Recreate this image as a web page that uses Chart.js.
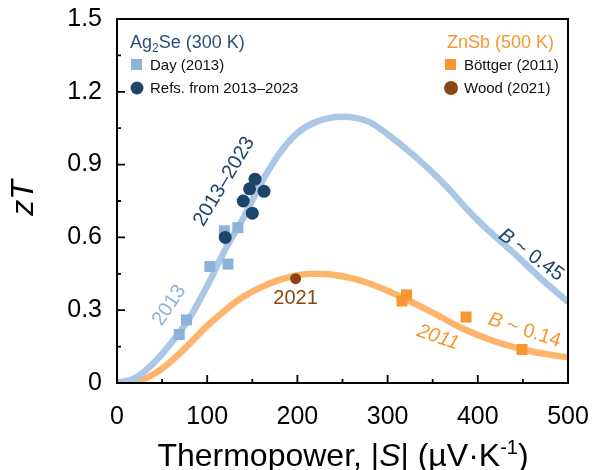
<!DOCTYPE html>
<html>
<head>
<meta charset="utf-8">
<script src="https://cdn.jsdelivr.net/npm/chart.js@4.4.1/dist/chart.umd.min.js"></script>
<style>
    body { margin: 0; background: #fff; }
    #wrap { width: 592px; height: 470px; position: relative; }
</style>
</head>
<body>
<div id="wrap"><canvas id="ztChart"></canvas></div>
<script>
// Model curves (|S| in uV/K, zT)
const blueS  = [0, 20, 40, 60, 80, 100, 120, 140, 160, 180, 200, 220, 250, 280, 300, 330, 360, 400, 440, 470, 500];
const blueZT = [0, 0.02, 0.08, 0.165, 0.265, 0.40, 0.55, 0.68, 0.825, 0.945, 1.03, 1.075, 1.097, 1.075, 1.025, 0.935, 0.83, 0.67, 0.535, 0.43, 0.334];

const orangeS  = [0, 20, 40, 60, 80, 100, 120, 140, 160, 180, 200, 220, 250, 280, 300, 320, 350, 380, 420, 460, 500];
const orangeZT = [0, 0.005, 0.035, 0.09, 0.16, 0.235, 0.30, 0.355, 0.395, 0.425, 0.444, 0.45, 0.44, 0.41, 0.38, 0.345, 0.29, 0.23, 0.17, 0.13, 0.105];

// Ag2Se points
const dayS  = [69, 77, 103, 123, 119, 134];
const dayZT = [0.20, 0.26, 0.48, 0.49, 0.627, 0.64];
const refsS  = [120, 140, 147, 153, 163, 150];
const refsZT = [0.60, 0.75, 0.80, 0.84, 0.79, 0.70];

// ZnSb points
const bottgerS  = [321, 316, 387, 449];
const bottgerZT = [0.363, 0.338, 0.272, 0.138];
const woodS  = [198];
const woodZT = [0.43];

const colors = {
    curveBlue: '#aac8e6',
    curveOrange: '#fdb46c',
    dayBlue: '#8db3dc',
    navy: '#1f4469',
    orange: '#f8962f',
    brown: '#8a4610'
};

const FONT = '"Liberation Sans", Arial, sans-serif';

function toPoints(xs, ys) {
    return xs.map((v, i) => ({ x: v, y: ys[i] }));
}

// draw a run of text pieces (mixed italic / sub / sup) around cx,cy
function drawRuns(ctx, runs, cx, cy, angle, align) {
    ctx.save();
    ctx.translate(cx, cy);
    ctx.rotate(angle * Math.PI / 180);
    let total = 0;
    runs.forEach(r => { ctx.font = r.font; r.w = ctx.measureText(r.t).width; total += r.w; });
    let x0 = align === 'left' ? 0 : (align === 'right' ? -total : -total / 2);
    runs.forEach(r => {
        ctx.font = r.font;
        ctx.fillStyle = r.color;
        ctx.fillText(r.t, x0, r.dy || 0);
        x0 += r.w;
    });
    ctx.restore();
}

const decorPlugin = {
    id: 'decor',
    afterDraw(chart) {
        const { ctx, chartArea: a, scales: { x, y } } = chart;
        ctx.save();

        // frame
        ctx.strokeStyle = '#000';
        ctx.lineWidth = 2;
        ctx.strokeRect(a.left, a.top, a.right - a.left, a.bottom - a.top);

        // inward ticks
        ctx.lineWidth = 1.8;
        ctx.beginPath();
        for (let v = 50; v < 500; v += 50) {
            const px = x.getPixelForValue(v);
            const len = v % 100 === 0 ? 8 : 4;
            ctx.moveTo(px, a.bottom);
            ctx.lineTo(px, a.bottom - len);
        }
        for (let i = 1; i < 10; i++) {
            const py = y.getPixelForValue(i * 0.15);
            const len = i % 2 === 0 ? 8 : 4;
            ctx.moveTo(a.left, py);
            ctx.lineTo(a.left + len, py);
        }
        ctx.stroke();

        ctx.textBaseline = 'middle';
        const px = (s) => x.getPixelForValue(s);
        const py = (z) => y.getPixelForValue(z);

        // curve / point annotations
        const f20 = '20px ' + FONT;
        const f20i = 'italic 20px ' + FONT;
        drawRuns(ctx, [{ t: '2013', font: f20, color: colors.dayBlue }], px(58), py(0.32), -56);
        drawRuns(ctx, [{ t: '2013\u20132023', font: f20, color: colors.navy }], px(119), py(0.83), -59);
        drawRuns(ctx, [{ t: 'B', font: f20i, color: colors.navy }, { t: ' ~ 0.45', font: f20, color: colors.navy }], px(459), py(0.527), 36);
        drawRuns(ctx, [{ t: 'B', font: f20i, color: colors.orange }, { t: ' ~ 0.14', font: f20, color: colors.orange }], px(452), py(0.217), 18);
        drawRuns(ctx, [{ t: '2011', font: f20i, color: colors.orange }], px(356), py(0.188), 19);
        drawRuns(ctx, [{ t: '2021', font: f20, color: colors.brown }], px(198), py(0.35), 0);

        // legends
        ctx.textBaseline = 'alphabetic';
        const f18 = '18px ' + FONT;
        const f15 = '15px ' + FONT;
        drawRuns(ctx, [
            { t: 'Ag', font: f18, color: '#2a4e7a' },
            { t: '2', font: '12px ' + FONT, color: '#2a4e7a', dy: 4 },
            { t: 'Se (300 K)', font: f18, color: '#2a4e7a' }
        ], 130, 48, 0, 'left');
        drawRuns(ctx, [{ t: 'Day (2013)', font: f15, color: '#111' }], 150, 70, 0, 'left');
        drawRuns(ctx, [{ t: 'Refs. from 2013\u20132023', font: f15, color: '#111' }], 150, 93, 0, 'left');
        ctx.fillStyle = colors.dayBlue;
        ctx.fillRect(131, 59, 11, 11);
        ctx.fillStyle = colors.navy;
        ctx.beginPath(); ctx.arc(137, 88, 6.5, 0, Math.PI * 2); ctx.fill();

        drawRuns(ctx, [{ t: 'ZnSb (500 K)', font: f18, color: colors.orange }], 554, 48, 0, 'right');
        drawRuns(ctx, [{ t: 'B\u00f6ttger (2011)', font: f15, color: '#111' }], 464, 70, 0, 'left');
        drawRuns(ctx, [{ t: 'Wood (2021)', font: f15, color: '#111' }], 464, 93, 0, 'left');
        ctx.fillStyle = colors.orange;
        ctx.fillRect(445, 59, 11, 11);
        ctx.fillStyle = colors.brown;
        ctx.beginPath(); ctx.arc(451, 88, 7, 0, Math.PI * 2); ctx.fill();

        // axis titles
        const f32 = '32px ' + FONT;
        const f32i = 'italic 32px ' + FONT;
        drawRuns(ctx, [
            { t: 'Thermopower, |', font: f32, color: '#000' },
            { t: 'S', font: f32i, color: '#000' },
            { t: '| (\u00b5V\u00b7K', font: f32, color: '#000' },
            { t: '-1', font: '20px ' + FONT, color: '#000', dy: -12 },
            { t: ')', font: f32, color: '#000' }
        ], 343, 466, 0);
        ctx.textBaseline = 'middle';
        drawRuns(ctx, [
            { t: 'z', font: f32i, color: '#000' },
            { t: 'T', font: f32i, color: '#000' }
        ], 24, 198, -90);

        ctx.restore();
    }
};

document.addEventListener('DOMContentLoaded', function() {
    const ctx = document.getElementById('ztChart').getContext('2d');
    new Chart(ctx, {
        type: 'scatter',
        data: {
            datasets: [
                {
                    label: 'Day (2013)',
                    data: toPoints(dayS, dayZT),
                    pointStyle: 'rect',
                    pointRadius: 7.8,
                    backgroundColor: colors.dayBlue,
                    borderWidth: 0,
                    order: 1
                },
                {
                    label: 'Refs. from 2013-2023',
                    data: toPoints(refsS, refsZT),
                    pointStyle: 'circle',
                    pointRadius: 6.5,
                    backgroundColor: colors.navy,
                    borderWidth: 0,
                    order: 0
                },
                {
                    label: 'Böttger (2011)',
                    data: toPoints(bottgerS, bottgerZT),
                    pointStyle: 'rect',
                    pointRadius: 7.8,
                    backgroundColor: colors.orange,
                    borderWidth: 0,
                    order: 1
                },
                {
                    label: 'Wood (2021)',
                    data: toPoints(woodS, woodZT),
                    pointStyle: 'circle',
                    pointRadius: 5.5,
                    backgroundColor: colors.brown,
                    borderWidth: 0,
                    order: 0
                },
                {
                    label: 'B ~ 0.45',
                    data: toPoints(blueS, blueZT),
                    showLine: true,
                    pointRadius: 0,
                    borderColor: colors.curveBlue,
                    borderWidth: 6.5,
                    cubicInterpolationMode: 'monotone',
                    order: 2
                },
                {
                    label: 'B ~ 0.14',
                    data: toPoints(orangeS, orangeZT),
                    showLine: true,
                    pointRadius: 0,
                    borderColor: colors.curveOrange,
                    borderWidth: 6.5,
                    cubicInterpolationMode: 'monotone',
                    order: 3
                }
            ]
        },
        options: {
            responsive: true,
            maintainAspectRatio: false,
            animation: false,
            layout: {
                padding: { top: 19, right: 24, left: 0, bottom: 0 }
            },
            plugins: {
                legend: { display: false },
                tooltip: { enabled: false }
            },
            scales: {
                x: {
                    type: 'linear',
                    min: 0,
                    max: 500,
                    afterFit: function(scale) {
                        scale.height = 87;
                        scale.paddingLeft = 0;
                        scale.paddingRight = 0;
                    },
                    grid: { display: false },
                    border: { display: true, color: '#000', width: 2 },
                    ticks: {
                        stepSize: 100,
                        padding: 11,
                        maxRotation: 0,
                        color: '#000',
                        font: { family: FONT, size: 25 }
                    }
                },
                y: {
                    type: 'linear',
                    min: 0,
                    max: 1.5,
                    afterFit: function(scale) {
                        scale.width = 117;
                        scale.paddingTop = 0;
                        scale.paddingBottom = 0;
                    },
                    grid: { display: false },
                    border: { display: true, color: '#000', width: 2 },
                    ticks: {
                        stepSize: 0.3,
                        padding: 7,
                        color: '#000',
                        font: { family: FONT, size: 25 },
                        callback: function(value) {
                            return value === 0 ? '0' : value.toFixed(1);
                        }
                    }
                }
            }
        },
        plugins: [decorPlugin]
    });
});
</script>
</body>
</html>
